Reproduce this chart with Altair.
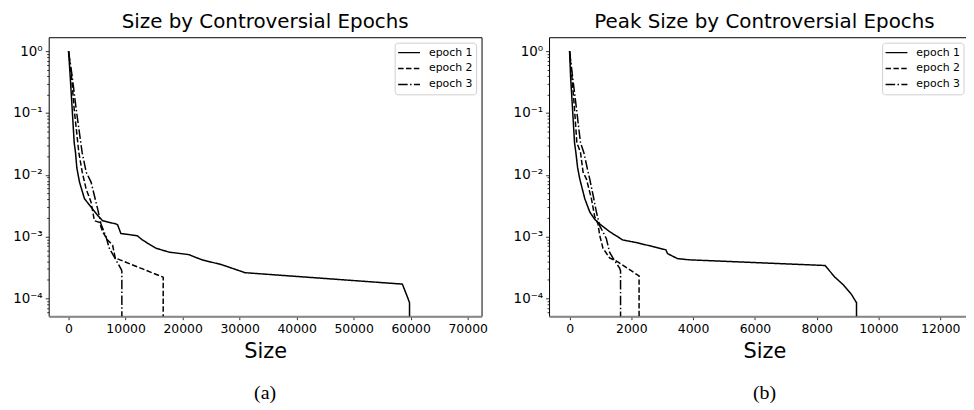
import altair as alt
import pandas as pd

series_names = ["epoch 1", "epoch 2", "epoch 3"]
dash_patterns = [[1, 0], [5.5, 2.4], [9.6, 2.4, 1.5, 2.4]]

# Panel (a): Size
a1_x = [0, 290, 640, 990, 1220, 1450, 1920, 2790, 3950, 5100, 5980, 8300, 8600, 9180, 12070, 12950, 15280, 17600, 21080, 23400, 26880, 30950, 58540, 59400, 59800, 59800]
a1_y = [1, 0.39, 0.115, 0.033, 0.023, 0.013, 0.0076, 0.0041, 0.0030, 0.0022, 0.0018, 0.0016, 0.00155, 0.00112, 0.00103, 0.00088, 0.00065, 0.00056, 0.00051, 0.00042, 0.00035, 0.00026, 0.00017, 0.000107, 0.000085, 0.000001]
a2_x = [0, 520, 990, 1800, 2400, 3080, 3950, 4530, 5400, 5980, 6850, 7720, 8190, 16600, 16600]
a2_y = [1, 0.39, 0.115, 0.023, 0.011, 0.0059, 0.0036, 0.0018, 0.0017, 0.0012, 0.00088, 0.00073, 0.00045, 0.00022, 0.000001]
a3_x = [0, 640, 1340, 2380, 3100, 3950, 5100, 5690, 6560, 7140, 8300, 9280, 9350, 9350]
a3_y = [1, 0.39, 0.115, 0.023, 0.011, 0.0076, 0.0028, 0.0016, 0.001, 0.00065, 0.00042, 0.00029, 0.00027, 0.000001]

# Panel (b): Peak Size
b1_x = [0, 32, 96, 160, 203, 260, 331, 492, 653, 813, 974, 1295, 1723, 2153, 2687, 3118, 3170, 3491, 3867, 8270, 8590, 8860, 9130, 9290, 9290]
b1_y = [1, 0.39, 0.115, 0.033, 0.023, 0.013, 0.0085, 0.0041, 0.0025, 0.0019, 0.0016, 0.0012, 0.00088, 0.00080, 0.00069, 0.00061, 0.00053, 0.00044, 0.00042, 0.00034, 0.00022, 0.000166, 0.000115, 0.000085, 0.000001]
b2_x = [0, 74, 160, 235, 353, 437, 546, 707, 813, 920, 974, 1080, 1295, 1562, 2250, 2250]
b2_y = [1, 0.39, 0.115, 0.033, 0.023, 0.011, 0.0085, 0.0041, 0.0021, 0.0016, 0.00105, 0.00065, 0.00045, 0.00039, 0.00023, 0.000001]
b3_x = [0, 96, 225, 353, 460, 600, 653, 760, 867, 974, 1189, 1295, 1402, 1617, 1650, 1650]
b3_y = [1, 0.39, 0.115, 0.033, 0.023, 0.011, 0.0085, 0.0047, 0.0025, 0.0015, 0.00093, 0.00056, 0.00045, 0.00031, 0.00028, 0.000001]

y_ticks = [1e-4, 1e-3, 1e-2, 1e-1, 1.0]
y_minor = [m * 10.0 ** e for e in range(-5, 0) for m in range(2, 10)]
y_minor = [v for v in y_minor if 5.2e-5 <= v <= 1.6]
x_ticks_a = [0, 10000, 20000, 30000, 40000, 50000, 60000, 70000]
x_ticks_b = [0, 2000, 4000, 6000, 8000, 10000, 12000]

titles = ["Size by Controversial Epochs", "Peak Size by Controversial Epochs"]
captions = ["(a)", "(b)"]

Y_DOMAIN = [5.14e-5, 1.68]
H = 281

def long_df(xs, ys):
    rows = []
    for name, x, y in zip(series_names, xs, ys):
        for i, (xv, yv) in enumerate(zip(x, y)):
            rows.append({"series": name, "x": xv, "y": yv, "i": i})
    return pd.DataFrame(rows)

is_decade = "abs(log(datum.value)/LN10 - round(log(datum.value)/LN10)) < 0.001"
sup_labels = "['10\u2070','10\u207b\u00b9','10\u207b\u00b2','10\u207b\u00b3','10\u207b\u2074']"

dash_scale = alt.Scale(domain=series_names, range=dash_patterns)

def panel(xs, ys, xdomain, xticks, width, title, caption, leg_right):
    df = long_df(xs, ys)
    yaxis = alt.Axis(
        values=y_ticks + y_minor,
        labelExpr=f"{is_decade} ? {sup_labels}[-round(log(datum.value)/LN10)] : ''",
        tickSize={"condition": {"test": is_decade, "value": 3.5}, "value": 2},
        tickColor="black", tickWidth=0.8, labelColor="black",
        labelFont="DejaVu Sans", labelFontSize=13.5, labelPadding=3,
        labelOverlap=False, domain=False, grid=False, title=None,
    )
    xaxis = alt.Axis(
        values=xticks, format="d", tickSize=3.5, tickColor="black", tickWidth=0.8,
        labelColor="black", labelFont="DejaVu Sans", labelFontSize=12.5, labelPadding=3,
        domainColor="#888", domainWidth=2, grid=False, labelOverlap=False,
        title="Size", titleFont="DejaVu Sans", titleFontSize=21, titleFontWeight="normal",
        titleColor="black", titlePadding=6,
    )
    lines = alt.Chart(df).mark_line(color="black", strokeWidth=1.5, clip=True).encode(
        x=alt.X("x:Q", scale=alt.Scale(domain=xdomain, nice=False, zero=False), axis=xaxis),
        y=alt.Y("y:Q", scale=alt.Scale(type="log", domain=Y_DOMAIN, nice=False), axis=yaxis),
        strokeDash=alt.StrokeDash("series:N", scale=dash_scale, legend=None),
        order=alt.Order("i:Q"),
    )
    r = width - leg_right
    leg_df = pd.DataFrame({"series": series_names, "order": list(range(len(series_names)))})
    box = alt.Chart(pd.DataFrame({"k": [0]})).mark_rect(
        fill="white", stroke="#cccccc", strokeWidth=1, cornerRadius=3, opacity=0.9
    ).encode(
        x=alt.value(r - 82), x2=alt.value(r),
        y=alt.value(6), y2=alt.value(58),
    )
    leg_base = alt.Chart(leg_df).transform_calculate(ly="15.5 + 16*datum.order")
    leg_lines = leg_base.mark_rule(color="black", strokeWidth=1.5).encode(
        x=alt.value(r - 79), x2=alt.value(r - 57),
        y=alt.Y("ly:Q", scale=None),
        strokeDash=alt.StrokeDash("series:N", scale=dash_scale, legend=None),
    )
    leg_text = leg_base.mark_text(
        align="left", baseline="middle", font="DejaVu Sans", fontSize=11, color="black"
    ).encode(
        x=alt.value(r - 48), y=alt.Y("ly:Q", scale=None), text="series:N",
    )
    cap = alt.Chart(pd.DataFrame({"t": [caption]})).mark_text(
        font="Liberation Serif", fontSize=20, color="black", baseline="middle", align="center", clip=False
    ).encode(x=alt.value(width / 2), y=alt.value(358), text="t:N")
    return alt.layer(lines, box, leg_lines, leg_text, cap).properties(
        width=width, height=H,
        title=alt.TitleParams(title, font="DejaVu Sans", fontSize=20, fontWeight="normal",
                              color="black", anchor="middle", offset=5),
    )

left = panel([a1_x, a2_x, a3_x], [a1_y, a2_y, a3_y], [-3480, 72430], x_ticks_a, 436, titles[0], captions[0], 5)
right = panel([b1_x, b2_x, b3_x], [b1_y, b2_y, b3_y], [-665, 13285], x_ticks_b, 434, titles[1], captions[1], 16)

chart = alt.hconcat(left, right, spacing=24).resolve_scale(x="independent", strokeDash="shared").properties(
    padding={"left": 4, "top": 2, "right": -15, "bottom": 0}, background="white"
).configure_view(stroke="black", strokeWidth=1)

chart.save("out.html", embed_options={"renderer": "svg", "actions": False})
